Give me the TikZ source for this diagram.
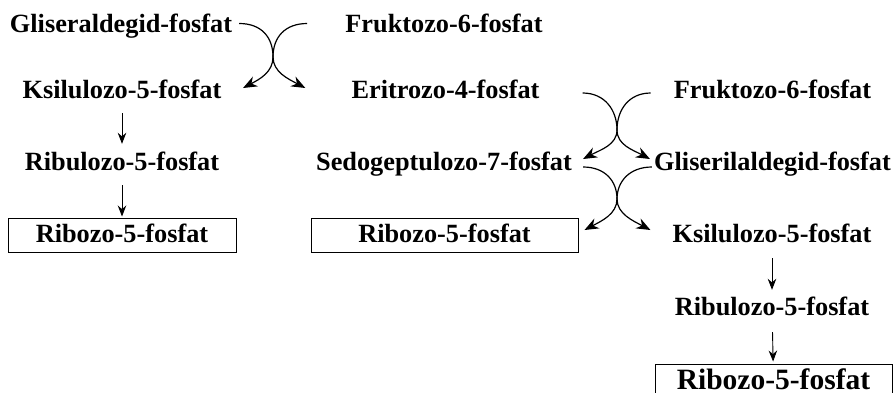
\documentclass[tikz,border=0pt]{standalone}
\usepackage{fontspec}
\setmainfont{Liberation Serif}
\usepackage{tikz}
\usetikzlibrary{arrows.meta}

\begin{document}
\begin{tikzpicture}[
    x=1pt, y=-1pt,
    lbl/.style={
        font=\fontsize{26.3}{30}\selectfont\bfseries,
        inner sep=0pt,
        text height=17pt,
        text depth=0pt,
        anchor=base
    },
    prod/.style={
        lbl,
        draw,
        line width=1pt,
        text height=24pt,
        text depth=10pt,
        minimum width=#1
    },
    down/.style={
        -{Stealth[length=11pt,width=8.5pt]},
        line width=0.9pt,
        shorten <=15pt,
        shorten >=9pt
    },
    swing/.style={
        -{Stealth[length=14pt,width=11pt]},
        line width=1.2pt
    }
]
\useasboundingbox (0,0) rectangle (893,392);
\clip (0,0) rectangle (893,392);

% =========================================================
% first transketolase step
% =========================================================
\node[lbl] (gl1) at (121,32)  {Gliseraldegid-fosfat};
\node[lbl] (fr1) at (444,32)  {Fruktozo-6-fosfat};
\node[lbl] (ks1) at (122,98)  {Ksilulozo-5-fosfat};
\node[lbl] (er1) at (445.5,98) {Eritrozo-4-fosfat};

\coordinate (tk1) at (273,57);
\draw[swing] ([xshift=7pt]gl1.east) .. controls +(22,0) and +(0,-20) .. (tk1)
    .. controls +(0,15) and +(17,-9) .. ([xshift=21.5pt,yshift=1.5pt]ks1.east);
\draw[swing] ([xshift=-38pt]fr1.west) .. controls +(-22,0) and +(0,-20) .. (tk1)
    .. controls +(0,15) and +(-17,-9) .. ([xshift=-46pt,yshift=1.5pt]er1.west);

% left branch down to ribose
\node[lbl] (rl1) at (122,170) {Ribulozo-5-fosfat};
\node[prod=228pt] (rb1) at (122,242) {Ribozo-5-fosfat};

\draw[down] (ks1) -- (rl1);
\draw[down, shorten >=1pt] (rl1) -- (rb1);

% =========================================================
% transaldolase / second transketolase step
% =========================================================
\node[lbl] (fr2) at (772.5,98)  {Fruktozo-6-fosfat};
\node[lbl] (sd1) at (444,170)   {Sedogeptulozo-7-fosfat};
\node[lbl] (gl2) at (772.5,170) {Gliserilaldegid-fosfat};

\coordinate (tk2) at (617,130);
\draw[swing] ([xshift=43pt,yshift=-3.5pt]er1.east) .. controls +(22,0) and +(0,-20) .. (tk2)
    .. controls +(0,15) and +(17,-9) .. ([xshift=11pt,yshift=2.5pt]sd1.east);
\draw[swing] ([xshift=-23pt,yshift=-3.5pt]fr2.west) .. controls +(-22,0) and +(0,-20) .. (tk2)
    .. controls +(0,15) and +(-17,-9) .. ([xshift=-4pt,yshift=2.5pt]gl2.west);

\node[prod=267pt] (rb2) at (444.5,242) {Ribozo-5-fosfat};
\node[lbl] (ks2) at (772,242) {Ksilulozo-5-fosfat};

\coordinate (tk3) at (617,199);
\draw[swing] ([xshift=11pt,yshift=-5.5pt]sd1.east) .. controls +(22,0) and +(0,-18) .. (tk3)
    .. controls +(0,15) and +(17,-9) .. ([xshift=6pt,yshift=5pt]rb2.east);
\draw[swing] ([xshift=-2pt,yshift=-5.5pt]gl2.west) .. controls +(-22,0) and +(0,-18) .. (tk3)
    .. controls +(0,15) and +(-17,-9) .. ([xshift=-22pt,yshift=3.5pt]ks2.west);

% right branch down to ribose
\node[lbl] (rl2) at (772,315) {Ribulozo-5-fosfat};
\node[prod=237pt, font=\fontsize{29.5}{34}\selectfont\bfseries, text height=25pt] (rb3) at (773.5,389) {Ribozo-5-fosfat};

\draw[down, shorten <=16pt, shorten >=8pt] (ks2) -- (rl2);
\draw[down, shorten <=17pt, shorten >=2pt] (rl2) -- (rb3);

\end{tikzpicture}
\end{document}
